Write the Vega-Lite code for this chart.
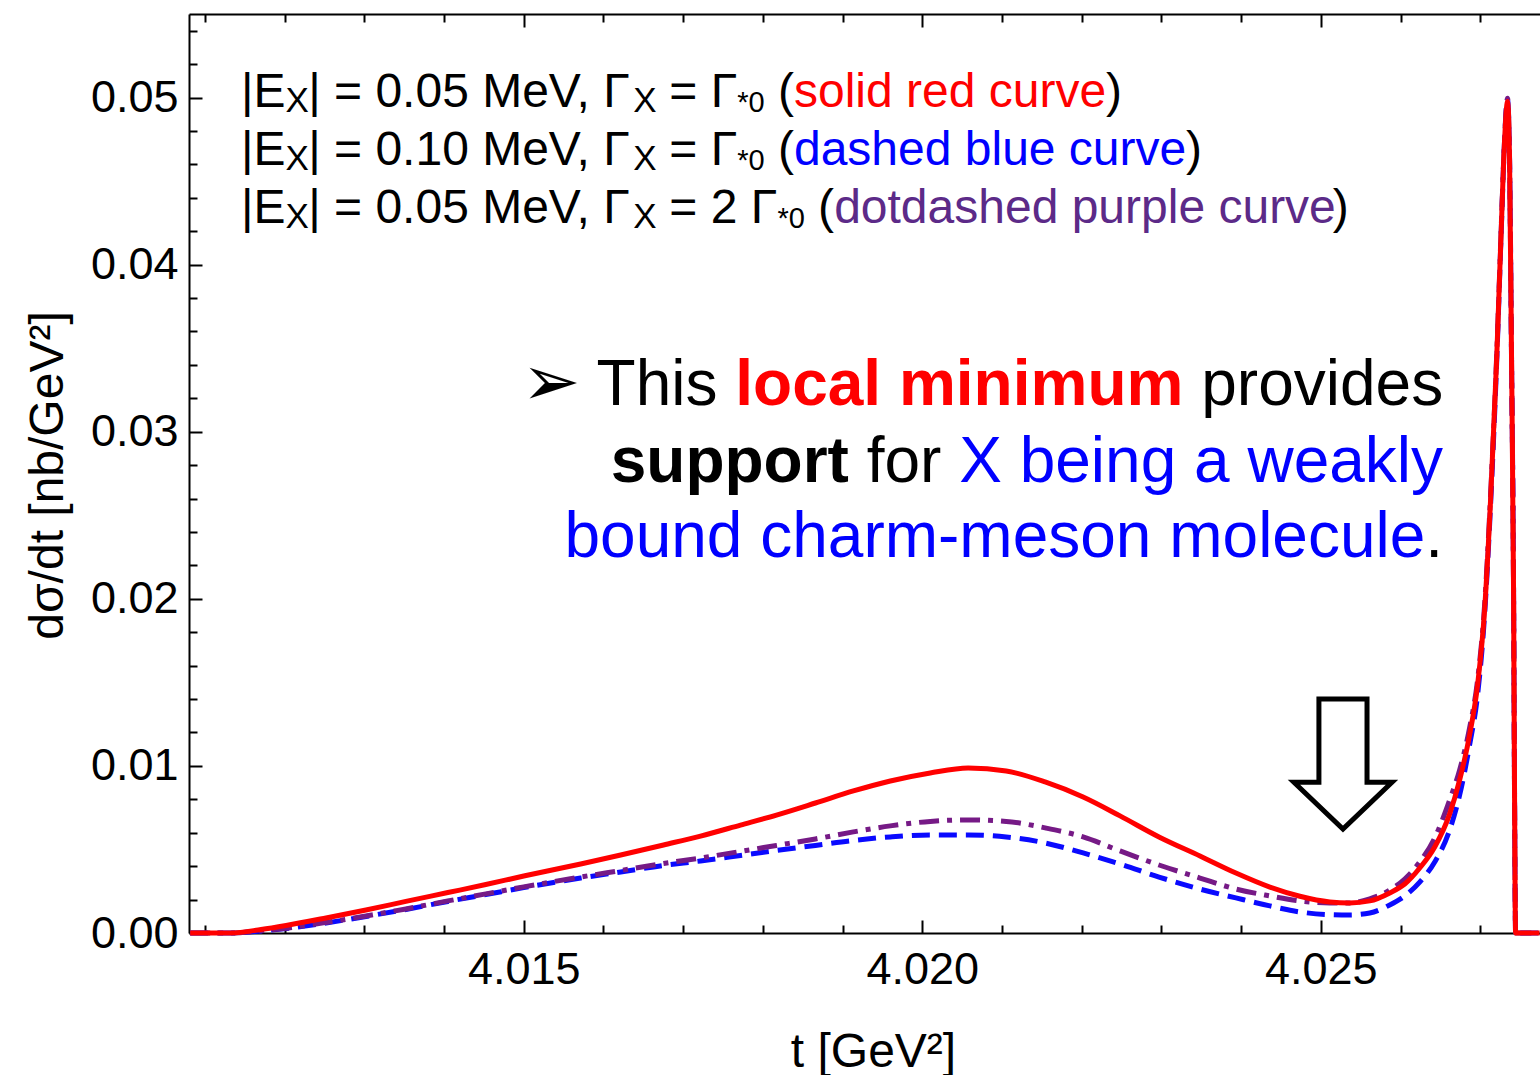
{
  "$schema": "https://vega.github.io/schema/vega-lite/v6.json",
  "width": 1351,
  "height": 919,
  "autosize": {"type": "none"},
  "padding": {"left": 189, "top": 14, "right": 0, "bottom": 142},
  "background": "white",
  "config": {"view": {"stroke": null}, "font": "Liberation Sans"},
  "resolve": {"axis": {"x": "independent", "y": "independent"}},
  "datasets": {
    "curves": [
      {"s":"red","t":4.010815,"v":0},{"s":"red","t":4.011328,"v":0},{"s":"red","t":4.011704,"v":0.00021},{"s":"red","t":4.012018,"v":0.00045},{"s":"red","t":4.012519,"v":0.0009},{"s":"red","t":4.01302,"v":0.00138},{"s":"red","t":4.013521,"v":0.00189},{"s":"red","t":4.014048,"v":0.00242},{"s":"red","t":4.014524,"v":0.0029},{"s":"red","t":4.015,"v":0.00341},{"s":"red","t":4.015714,"v":0.00413},{"s":"red","t":4.016216,"v":0.00467},{"s":"red","t":4.016754,"v":0.00527},{"s":"red","t":4.017218,"v":0.0058},{"s":"red","t":4.017719,"v":0.00646},{"s":"red","t":4.01817,"v":0.00706},{"s":"red","t":4.018659,"v":0.00778},{"s":"red","t":4.019135,"v":0.0085},{"s":"red","t":4.019599,"v":0.0091},{"s":"red","t":4.0201,"v":0.00958},{"s":"red","t":4.020576,"v":0.00988},{"s":"red","t":4.021053,"v":0.0097},{"s":"red","t":4.021541,"v":0.00904},{"s":"red","t":4.022018,"v":0.00814},{"s":"red","t":4.022481,"v":0.00701},{"s":"red","t":4.02297,"v":0.00575},{"s":"red","t":4.023484,"v":0.00461},{"s":"red","t":4.023935,"v":0.00359},{"s":"red","t":4.024361,"v":0.00275},{"s":"red","t":4.024737,"v":0.0022},{"s":"red","t":4.025113,"v":0.00186},{"s":"red","t":4.025363,"v":0.0018},{"s":"red","t":4.025614,"v":0.00192},{"s":"red","t":4.025865,"v":0.0024},{"s":"red","t":4.026053,"v":0.00293},{"s":"red","t":4.026241,"v":0.00389},{"s":"red","t":4.026429,"v":0.00515},{"s":"red","t":4.026617,"v":0.00713},{"s":"red","t":4.026742,"v":0.00916},{"s":"red","t":4.026867,"v":0.01186},{"s":"red","t":4.026967,"v":0.01485},{"s":"red","t":4.027055,"v":0.01934},{"s":"red","t":4.02713,"v":0.02593},{"s":"red","t":4.027206,"v":0.03431},{"s":"red","t":4.027268,"v":0.0427},{"s":"red","t":4.027306,"v":0.04749},{"s":"red","t":4.027343,"v":0.04976},{"s":"red","t":4.027368,"v":0.04629},{"s":"red","t":4.027393,"v":0.03431},{"s":"red","t":4.027419,"v":0.01994},{"s":"red","t":4.027431,"v":0.00796},{"s":"red","t":4.027444,"v":0},{"s":"red","t":4.027744,"v":0},
      {"s":"blue","t":4.010815,"v":0},{"s":"blue","t":4.011328,"v":0},{"s":"blue","t":4.011704,"v":0.00012},{"s":"blue","t":4.012018,"v":0.00027},{"s":"blue","t":4.012519,"v":0.0006},{"s":"blue","t":4.01302,"v":0.00099},{"s":"blue","t":4.013521,"v":0.00141},{"s":"blue","t":4.014048,"v":0.00189},{"s":"blue","t":4.014524,"v":0.0023},{"s":"blue","t":4.015,"v":0.00272},{"s":"blue","t":4.015714,"v":0.00329},{"s":"blue","t":4.016216,"v":0.00365},{"s":"blue","t":4.016754,"v":0.00404},{"s":"blue","t":4.017218,"v":0.00431},{"s":"blue","t":4.017719,"v":0.00464},{"s":"blue","t":4.01817,"v":0.00494},{"s":"blue","t":4.018659,"v":0.00524},{"s":"blue","t":4.019135,"v":0.00554},{"s":"blue","t":4.019599,"v":0.00575},{"s":"blue","t":4.0201,"v":0.00587},{"s":"blue","t":4.020576,"v":0.00587},{"s":"blue","t":4.021053,"v":0.00575},{"s":"blue","t":4.021541,"v":0.00539},{"s":"blue","t":4.022018,"v":0.00479},{"s":"blue","t":4.022481,"v":0.00413},{"s":"blue","t":4.02297,"v":0.00335},{"s":"blue","t":4.023484,"v":0.00263},{"s":"blue","t":4.023935,"v":0.0021},{"s":"blue","t":4.024361,"v":0.00162},{"s":"blue","t":4.024737,"v":0.00126},{"s":"blue","t":4.025113,"v":0.0011},{"s":"blue","t":4.025363,"v":0.00108},{"s":"blue","t":4.025614,"v":0.0012},{"s":"blue","t":4.025865,"v":0.00168},{"s":"blue","t":4.026053,"v":0.00222},{"s":"blue","t":4.026241,"v":0.00305},{"s":"blue","t":4.026429,"v":0.00425},{"s":"blue","t":4.026617,"v":0.00617},{"s":"blue","t":4.026742,"v":0.00826},{"s":"blue","t":4.026867,"v":0.01126},{"s":"blue","t":4.026967,"v":0.01425},{"s":"blue","t":4.027055,"v":0.01904},{"s":"blue","t":4.02713,"v":0.02563},{"s":"blue","t":4.027206,"v":0.03411},{"s":"blue","t":4.027268,"v":0.0426},{"s":"blue","t":4.027306,"v":0.04749},{"s":"blue","t":4.027343,"v":0.04986},{"s":"blue","t":4.027368,"v":0.04629},{"s":"blue","t":4.027393,"v":0.03431},{"s":"blue","t":4.027419,"v":0.01994},{"s":"blue","t":4.027431,"v":0.00796},{"s":"blue","t":4.027444,"v":0},{"s":"blue","t":4.027744,"v":0},
      {"s":"purple","t":4.010815,"v":0},{"s":"purple","t":4.011328,"v":0},{"s":"purple","t":4.011704,"v":0.00013},{"s":"purple","t":4.012018,"v":0.00029},{"s":"purple","t":4.012519,"v":0.00063},{"s":"purple","t":4.01302,"v":0.00102},{"s":"purple","t":4.013521,"v":0.00144},{"s":"purple","t":4.014048,"v":0.00192},{"s":"purple","t":4.014524,"v":0.00234},{"s":"purple","t":4.015,"v":0.00276},{"s":"purple","t":4.015714,"v":0.00335},{"s":"purple","t":4.016216,"v":0.00374},{"s":"purple","t":4.016754,"v":0.00416},{"s":"purple","t":4.017218,"v":0.00449},{"s":"purple","t":4.017719,"v":0.00488},{"s":"purple","t":4.01817,"v":0.00524},{"s":"purple","t":4.018659,"v":0.00563},{"s":"purple","t":4.019135,"v":0.00605},{"s":"purple","t":4.019599,"v":0.00641},{"s":"purple","t":4.0201,"v":0.00668},{"s":"purple","t":4.020576,"v":0.00677},{"s":"purple","t":4.021053,"v":0.00668},{"s":"purple","t":4.021541,"v":0.00629},{"s":"purple","t":4.022018,"v":0.00575},{"s":"purple","t":4.022481,"v":0.00491},{"s":"purple","t":4.02297,"v":0.00407},{"s":"purple","t":4.023484,"v":0.00329},{"s":"purple","t":4.023935,"v":0.00263},{"s":"purple","t":4.024361,"v":0.00222},{"s":"purple","t":4.024737,"v":0.00192},{"s":"purple","t":4.025113,"v":0.0018},{"s":"purple","t":4.025363,"v":0.0018},{"s":"purple","t":4.025614,"v":0.00204},{"s":"purple","t":4.025865,"v":0.00257},{"s":"purple","t":4.026053,"v":0.00323},{"s":"purple","t":4.026241,"v":0.00425},{"s":"purple","t":4.026429,"v":0.00569},{"s":"purple","t":4.026617,"v":0.00796},{"s":"purple","t":4.026742,"v":0.00976},{"s":"purple","t":4.026867,"v":0.01228},{"s":"purple","t":4.026967,"v":0.01515},{"s":"purple","t":4.027055,"v":0.01964},{"s":"purple","t":4.02713,"v":0.02623},{"s":"purple","t":4.027206,"v":0.03451},{"s":"purple","t":4.027268,"v":0.0428},{"s":"purple","t":4.027306,"v":0.04759},{"s":"purple","t":4.027343,"v":0.04996},{"s":"purple","t":4.027368,"v":0.04639},{"s":"purple","t":4.027393,"v":0.03431},{"s":"purple","t":4.027419,"v":0.01994},{"s":"purple","t":4.027431,"v":0.00796},{"s":"purple","t":4.027444,"v":0},{"s":"purple","t":4.027744,"v":0}
    ],
    "notes": [
      {"kind":"leg","text":"|E","t":4.011452,"v":0.049461},
      {"kind":"sub","text":"X","t":4.012011,"v":0.049162},
      {"kind":"leg","text":"| = 0.05 MeV, Γ","t":4.012296,"v":0.049461},
      {"kind":"sub","text":"X","t":4.016373,"v":0.049162},
      {"kind":"leg","text":"= Γ","t":4.016826,"v":0.049461},
      {"kind":"sub2","text":"*0","t":4.017679,"v":0.049162},
      {"kind":"leg","text":"(","t":4.01819,"v":0.049461},
      {"kind":"legred","text":"solid red curve","t":4.01839,"v":0.049461},
      {"kind":"leg","text":")","t":4.022305,"v":0.049461},
      {"kind":"leg","text":"|E","t":4.011452,"v":0.045988},
      {"kind":"sub","text":"X","t":4.012011,"v":0.045689},
      {"kind":"leg","text":"| = 0.10 MeV, Γ","t":4.012296,"v":0.045988},
      {"kind":"sub","text":"X","t":4.016373,"v":0.045689},
      {"kind":"leg","text":"= Γ","t":4.016826,"v":0.045988},
      {"kind":"sub2","text":"*0","t":4.017679,"v":0.045689},
      {"kind":"leg","text":"(","t":4.01819,"v":0.045988},
      {"kind":"legblue","text":"dashed blue curve","t":4.01839,"v":0.045988},
      {"kind":"leg","text":")","t":4.023309,"v":0.045988},
      {"kind":"leg","text":"|E","t":4.011452,"v":0.042515},
      {"kind":"sub","text":"X","t":4.012011,"v":0.042216},
      {"kind":"leg","text":"| = 0.05 MeV, Γ","t":4.012296,"v":0.042515},
      {"kind":"sub","text":"X","t":4.016373,"v":0.042216},
      {"kind":"leg","text":"= 2 Γ","t":4.016826,"v":0.042515},
      {"kind":"sub2","text":"*0","t":4.018182,"v":0.042216},
      {"kind":"leg","text":"(","t":4.018693,"v":0.042515},
      {"kind":"legpurple","text":"dotdashed purple curve","t":4.018894,"v":0.042515},
      {"kind":"leg","text":")","t":4.02515,"v":0.042515},
      {"kind":"bullet","text":"➢","t":4.015342,"v":0.0316},
      {"kind":"big","text":"This","t":4.015914,"v":0.031617},
      {"kind":"bigredbold","text":"local minimum","t":4.017654,"v":0.031617},
      {"kind":"big","text":"provides","t":4.0235,"v":0.031617},
      {"kind":"bigbold","text":"support","t":4.016091,"v":0.027006},
      {"kind":"big","text":"for","t":4.019303,"v":0.027006},
      {"kind":"bigblue","text":"X being a weakly","t":4.020463,"v":0.027006},
      {"kind":"bigblue","text":"bound charm-meson molecule","t":4.015511,"v":0.022515},
      {"kind":"big","text":".","t":4.02631,"v":0.022515},
      {"kind":"arrow","text":"","t":4.025278,"v":0.010114}
    ]
  },
  "layer": [
    {
      "data": {"name": "curves"},
      "transform": [{"filter": "datum.s == 'blue'"}],
      "mark": {"type": "line", "color": "#0a0aff", "strokeWidth": 5, "strokeDash": [18, 9], "strokeCap": "butt", "interpolate": "monotone"},
      "encoding": {
        "x": {"field": "t", "type": "quantitative",
          "scale": {"domain": [4.0108, 4.02775], "nice": false, "zero": false},
          "axis": {"orient": "bottom", "grid": false,
            "values": [4.011,4.012,4.013,4.014,4.015,4.016,4.017,4.018,4.019,4.02,4.021,4.022,4.023,4.024,4.025,4.026,4.027],
            "labelExpr": "abs(datum.value*200 - round(datum.value*200)) < 0.001 ? format(datum.value, '.3f') : ''",
            "labelFont": "Liberation Sans", "labelFontSize": 45, "labelColor": "black", "labelPadding": 27, "labelFlush": false, "labelOverlap": false,
            "tickColor": "black", "tickWidth": 2,
            "tickSize": {"condition": {"test": "abs(datum.value*200 - round(datum.value*200)) < 0.001", "value": -13}, "value": -8},
            "domainColor": "black", "domainWidth": 2,
            "title": "t [GeV²]", "titleFont": "Liberation Sans", "titleFontSize": 48, "titleFontWeight": "normal", "titleColor": "black",
            "titleX": 684, "titleY": 133, "titleAlign": "center", "titleBaseline": "alphabetic"}},
        "y": {"field": "v", "type": "quantitative",
          "scale": {"domain": [0, 0.055], "nice": false},
          "axis": {"orient": "left", "grid": false,
            "values": [0,0.002,0.004,0.006,0.008,0.01,0.012,0.014,0.016,0.018,0.02,0.022,0.024,0.026,0.028,0.03,0.032,0.034,0.036,0.038,0.04,0.042,0.044,0.046,0.048,0.05,0.052,0.054],
            "labelExpr": "abs(datum.value*100 - round(datum.value*100)) < 0.001 ? format(datum.value, '.2f') : ''",
            "labelFont": "Liberation Sans", "labelFontSize": 45, "labelColor": "black", "labelPadding": 24, "labelFlush": false, "labelOverlap": false,
            "tickColor": "black", "tickWidth": 2,
            "tickSize": {"condition": {"test": "abs(datum.value*100 - round(datum.value*100)) < 0.001", "value": -13}, "value": -8},
            "domainColor": "black", "domainWidth": 2,
            "title": "dσ/dt [nb/GeV²]", "titleFont": "Liberation Sans", "titleFontSize": 48, "titleFontWeight": "normal", "titleColor": "black",
            "titleAngle": 270, "titleX": -127, "titleY": 461, "titleAlign": "center", "titleBaseline": "alphabetic"}}
      }
    },
    {
      "data": {"name": "curves"},
      "transform": [{"filter": "datum.s == 'purple'"}],
      "mark": {"type": "line", "color": "#761a86", "strokeWidth": 5, "strokeDash": [20, 8, 5, 8], "strokeCap": "butt", "interpolate": "monotone"},
      "encoding": {
        "x": {"field": "t", "type": "quantitative", "axis": null},
        "y": {"field": "v", "type": "quantitative", "axis": null}
      }
    },
    {
      "data": {"name": "curves"},
      "transform": [{"filter": "datum.s == 'red'"}],
      "mark": {"type": "line", "color": "#ff0000", "strokeWidth": 5, "strokeJoin": "round", "interpolate": "monotone"},
      "encoding": {
        "x": {"field": "t", "type": "quantitative", "axis": null},
        "y": {"field": "v", "type": "quantitative", "axis": null}
      }
    },
    {
      "data": {"name": "notes"},
      "transform": [{"filter": "datum.kind == 'arrow'"}],
      "mark": {"type": "point", "shape": "M -0.37 -1 L 0.37 -1 L 0.37 0.28 L 0.754 0.28 L 0 1 L -0.754 0.28 L -0.37 0.28 Z", "size": 16900, "filled": true, "fill": "white", "stroke": "black", "strokeWidth": 5, "opacity": 1, "strokeJoin": "miter"},
      "encoding": {
        "x": {"field": "t", "type": "quantitative",
          "axis": {"orient": "top", "grid": false, "labels": false, "title": null,
            "values": [4.011,4.012,4.013,4.014,4.015,4.016,4.017,4.018,4.019,4.02,4.021,4.022,4.023,4.024,4.025,4.026,4.027],
            "tickColor": "black", "tickWidth": 2,
            "tickSize": {"condition": {"test": "abs(datum.value*200 - round(datum.value*200)) < 0.001", "value": -13}, "value": -8},
            "domainColor": "black", "domainWidth": 2}},
        "y": {"field": "v", "type": "quantitative", "axis": null}
      }
    },
    {
      "data": {"name": "notes"},
      "transform": [{"filter": "datum.kind == 'leg'"}],
      "mark": {"type": "text", "font": "Liberation Sans", "fontSize": 48, "color": "black", "align": "left", "baseline": "alphabetic"},
      "encoding": {"x": {"field": "t", "type": "quantitative", "axis": null}, "y": {"field": "v", "type": "quantitative", "axis": null}, "text": {"field": "text"}}
    },
    {
      "data": {"name": "notes"},
      "transform": [{"filter": "datum.kind == 'sub'"}],
      "mark": {"type": "text", "font": "Liberation Sans", "fontSize": 35, "color": "black", "align": "left", "baseline": "alphabetic"},
      "encoding": {"x": {"field": "t", "type": "quantitative", "axis": null}, "y": {"field": "v", "type": "quantitative", "axis": null}, "text": {"field": "text"}}
    },
    {
      "data": {"name": "notes"},
      "transform": [{"filter": "datum.kind == 'sub2'"}],
      "mark": {"type": "text", "font": "Liberation Sans", "fontSize": 29, "color": "black", "align": "left", "baseline": "alphabetic"},
      "encoding": {"x": {"field": "t", "type": "quantitative", "axis": null}, "y": {"field": "v", "type": "quantitative", "axis": null}, "text": {"field": "text"}}
    },
    {
      "data": {"name": "notes"},
      "transform": [{"filter": "datum.kind == 'legred'"}],
      "mark": {"type": "text", "font": "Liberation Sans", "fontSize": 48, "color": "#ff0000", "align": "left", "baseline": "alphabetic"},
      "encoding": {"x": {"field": "t", "type": "quantitative", "axis": null}, "y": {"field": "v", "type": "quantitative", "axis": null}, "text": {"field": "text"}}
    },
    {
      "data": {"name": "notes"},
      "transform": [{"filter": "datum.kind == 'legblue'"}],
      "mark": {"type": "text", "font": "Liberation Sans", "fontSize": 48, "color": "#0000ff", "align": "left", "baseline": "alphabetic"},
      "encoding": {"x": {"field": "t", "type": "quantitative", "axis": null}, "y": {"field": "v", "type": "quantitative", "axis": null}, "text": {"field": "text"}}
    },
    {
      "data": {"name": "notes"},
      "transform": [{"filter": "datum.kind == 'legpurple'"}],
      "mark": {"type": "text", "font": "Liberation Sans", "fontSize": 48, "color": "#5c2a88", "align": "left", "baseline": "alphabetic"},
      "encoding": {"x": {"field": "t", "type": "quantitative", "axis": null}, "y": {"field": "v", "type": "quantitative", "axis": null}, "text": {"field": "text"}}
    },
    {
      "data": {"name": "notes"},
      "transform": [{"filter": "datum.kind == 'bullet'"}],
      "mark": {"type": "text", "font": "DejaVu Sans", "fontSize": 70, "color": "black", "align": "center", "baseline": "alphabetic"},
      "encoding": {"x": {"field": "t", "type": "quantitative", "axis": null}, "y": {"field": "v", "type": "quantitative", "axis": null}, "text": {"field": "text"}}
    },
    {
      "data": {"name": "notes"},
      "transform": [{"filter": "datum.kind == 'big'"}],
      "mark": {"type": "text", "font": "Liberation Sans", "fontSize": 64, "color": "black", "align": "left", "baseline": "alphabetic"},
      "encoding": {"x": {"field": "t", "type": "quantitative", "axis": null}, "y": {"field": "v", "type": "quantitative", "axis": null}, "text": {"field": "text"}}
    },
    {
      "data": {"name": "notes"},
      "transform": [{"filter": "datum.kind == 'bigbold'"}],
      "mark": {"type": "text", "font": "Liberation Sans", "fontSize": 64, "fontWeight": "bold", "color": "black", "align": "left", "baseline": "alphabetic"},
      "encoding": {"x": {"field": "t", "type": "quantitative", "axis": null}, "y": {"field": "v", "type": "quantitative", "axis": null}, "text": {"field": "text"}}
    },
    {
      "data": {"name": "notes"},
      "transform": [{"filter": "datum.kind == 'bigredbold'"}],
      "mark": {"type": "text", "font": "Liberation Sans", "fontSize": 64, "fontWeight": "bold", "color": "#ff0000", "align": "left", "baseline": "alphabetic"},
      "encoding": {"x": {"field": "t", "type": "quantitative", "axis": null}, "y": {"field": "v", "type": "quantitative", "axis": null}, "text": {"field": "text"}}
    },
    {
      "data": {"name": "notes"},
      "transform": [{"filter": "datum.kind == 'bigblue'"}],
      "mark": {"type": "text", "font": "Liberation Sans", "fontSize": 64, "color": "#0000ff", "align": "left", "baseline": "alphabetic"},
      "encoding": {"x": {"field": "t", "type": "quantitative", "axis": null}, "y": {"field": "v", "type": "quantitative", "axis": null}, "text": {"field": "text"}}
    }
  ]
}
